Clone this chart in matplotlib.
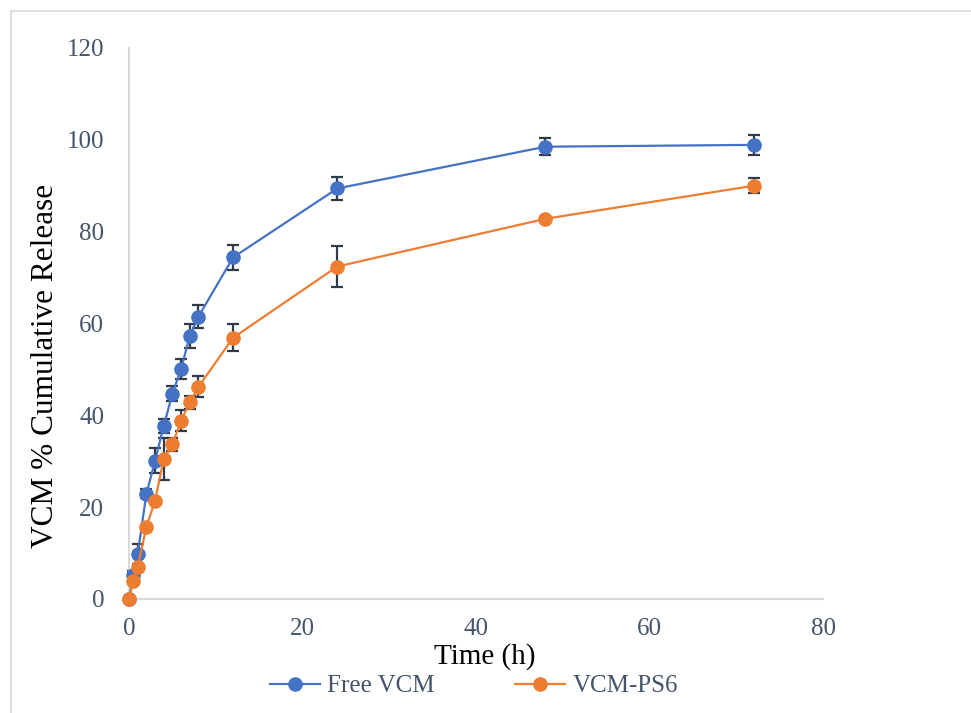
import numpy as np
import matplotlib.pyplot as plt
from matplotlib.patches import Rectangle

# data
time_h = [0, 0.5, 1, 2, 3, 4, 5, 6, 7, 8, 12, 24, 48, 72]
free_vcm = [0, 5.2, 9.8, 22.9, 30.1, 37.7, 44.7, 50.1, 57.3, 61.5, 74.4, 89.4, 98.5, 98.9]
free_err = [0, 1.0, 2.2, 1.0, 2.7, 1.5, 1.6, 2.2, 2.6, 2.5, 2.8, 2.5, 1.8, 2.1]
vcm_ps6 = [0, 3.9, 7.0, 15.7, 21.4, 30.5, 33.7, 38.8, 42.8, 46.2, 56.9, 72.4, 82.8, 90.0]
ps6_err = [0, 0.5, 0.5, 0.5, 0.5, 4.5, 1.4, 2.3, 1.4, 2.3, 3.0, 4.5, 0.4, 1.6]

x_ticks = [0, 20, 40, 60, 80]
y_ticks = [0, 20, 40, 60, 80, 100, 120]

BLUE = "#4472C4"
ORANGE = "#ED7D31"
ERR = "#2F3A4A"
TICK = "#44546A"
GRID = "#D9D9D9"

plt.rcParams['font.family'] = ['Liberation Serif', 'DejaVu Serif']

fig = plt.figure(figsize=(9.71, 7.13), dpi=100)
ax = fig.add_axes([0.1329, 0.1599, 0.8476 - 0.1329, 0.9327 - 0.1599])

# chart frame (only top/left edges fall inside the image)
fig.patches.append(Rectangle((11 / 971, -0.1), 1.2, 1 - 11 / 713 + 0.1,
                             transform=fig.transFigure, fill=False,
                             edgecolor=GRID, linewidth=1.2))

for y, err, col, lab in [(free_vcm, free_err, BLUE, "Free VCM"),
                         (vcm_ps6, ps6_err, ORANGE, "VCM-PS6")]:
    ax.errorbar(time_h, y, yerr=err, fmt='none', ecolor=ERR, elinewidth=1.6,
                capsize=4.5, capthick=1.6, zorder=2, clip_on=False)
    ax.plot(time_h, y, color=col, linewidth=1.6, marker='o', markersize=9.5,
            label=lab, zorder=3, clip_on=False)

ax.set_xlim(0, 80)
ax.set_ylim(0, 120)
ax.set_xticks(x_ticks)
ax.set_yticks(y_ticks)
ax.tick_params(length=0, labelsize=18, labelcolor=TICK)
ax.tick_params(axis='y', pad=18)
ax.tick_params(axis='x', pad=14)

for side in ['top', 'right']:
    ax.spines[side].set_visible(False)
for side in ['left', 'bottom']:
    ax.spines[side].set_color(GRID)
    ax.spines[side].set_linewidth(1.5)

ax.set_xlabel("Time (h)", fontsize=21, color='black')
ax.set_ylabel("VCM % Cumulative Release", fontsize=22.5, color='black')
# place the titles where the reference has them (pixel centres)
ax.xaxis.set_label_coords((485 - 129) / (823 - 129), (599 - 657) / (599 - 48), transform=ax.transAxes)
ax.yaxis.set_label_coords((45 - 129) / (823 - 129), (599 - 366) / (599 - 48), transform=ax.transAxes)
ax.xaxis.label.set_va('center')
ax.yaxis.label.set_va('center')

leg = fig.legend(loc='center', bbox_to_anchor=(474 / 971, 1 - 686 / 713), ncol=2,
                 frameon=False, fontsize=18, columnspacing=3.2, handlelength=2.0,
                 handletextpad=0.3)
for t in leg.get_texts():
    t.set_color(TICK)

fig.savefig("out.png", dpi=100)
